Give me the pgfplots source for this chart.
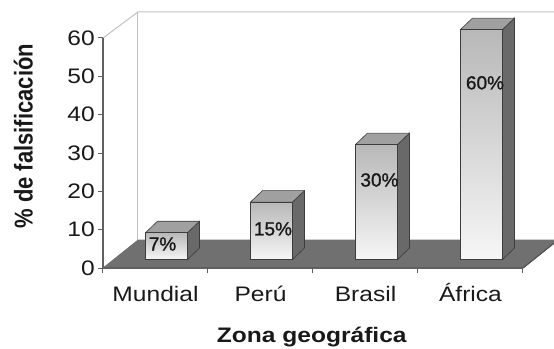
\documentclass[border=0pt]{standalone}
\usepackage{pgfplots}
\pgfplotsset{compat=1.18}
\usepackage{pgfplotstable}
\usepackage{fontspec}
\setmainfont{Liberation Sans}[FakeStretch=1.17]
\newfontfamily\plainfont{Liberation Sans}
\newfontfamily\labfont{Liberation Sans}[FakeBold=1.2]
\definecolor{floorc}{RGB}{112,112,112}
\definecolor{flooredge}{RGB}{85,85,85}
\definecolor{wallc}{RGB}{192,192,192}
\definecolor{axisc}{RGB}{96,96,96}
\definecolor{edgec}{RGB}{60,60,60}
\definecolor{topc}{RGB}{160,160,160}
\definecolor{sidec}{RGB}{105,105,105}
\definecolor{frontt}{RGB}{184,184,184}
\definecolor{frontb}{RGB}{246,246,246}
\definecolor{textc}{RGB}{25,25,25}

% unit shapes of the faces of a 3D bar: x = category + dx, y = value*fy + dy
\pgfplotstableread{
dx fy dy
-0.095 0 2.2
0.305 0 2.2
0.305 1 2.2
-0.095 1 2.2
}\frontshape
\pgfplotstableread{
dx fy dy
-0.095 1 2.2
0.305 1 2.2
0.419 1 5.2
0.019 1 5.2
}\topshape
\pgfplotstableread{
dx fy dy
0.305 0 2.2
0.305 1 2.2
0.419 1 5.2
0.419 0 5.2
}\sideshape

\newcommand{\cube}[2]{%
 \addplot[draw=edgec, fill=sidec, line width=0.6pt] table[x expr={#1+\thisrow{dx}}, y expr={#2*\thisrow{fy}+\thisrow{dy}}] {\sideshape} -- cycle;
 \addplot[draw=edgec, fill=topc, line width=0.6pt] table[x expr={#1+\thisrow{dx}}, y expr={#2*\thisrow{fy}+\thisrow{dy}}] {\topshape} -- cycle;
 \addplot[draw=edgec, top color=frontt, bottom color=frontb, line width=0.6pt] table[x expr={#1+\thisrow{dx}}, y expr={#2*\thisrow{fy}+\thisrow{dy}}] {\frontshape} -- cycle;
}

\begin{document}
\begin{tikzpicture}
\begin{axis}[
  at={(0,0)}, anchor=south west,
  width=420pt, height=230pt, scale only axis,
  xmin=-0.5, xmax=3.5, ymin=0, ymax=60,
  clip=false,
  axis on top,
  axis x line*=bottom, axis y line*=left,
  axis line style={draw=axisc, line width=1.2pt},
  ytick={0,10,...,60},
  xtick={0,1,2,3},
  xticklabels={Mundial,Perú,Brasil,África},
  minor xtick={-0.5,0.5,1.5,2.5,3.5},
  major x tick style={draw=none},
  tick align=outside,
  major tick length=5pt, minor tick length=5pt,
  every tick/.style={draw=axisc, line width=1pt},
  minor tick style={draw=axisc, line width=1pt},
  /pgf/number format/assume math mode=true,
  tick label style={font=\fontsize{21}{25}\selectfont, text=textc},
  yticklabel style={inner sep=1pt, xshift=-2pt},
  xticklabel style={anchor=base, yshift=-28pt},
  xlabel={Zona geográfica},
  ylabel={\scalebox{1}[1.17]{\% de falsificación}},
  every axis x label/.style={at={(axis description cs:0.497,-0.326)}, anchor=base, font=\bfseries\fontsize{21}{25}\selectfont, text=textc},
  every axis y label/.style={at={(axis description cs:-0.19,0.573)}, rotate=90, anchor=center, font=\plainfont\bfseries\fontsize{22}{26}\selectfont, text=textc},
]
% walls
\addplot[draw=wallc, line width=1pt] coordinates {(-0.5,60) (-0.167,66.8) (4.5,66.8)};
\addplot[draw=wallc, line width=1pt] coordinates {(-0.167,66.8) (-0.167,7.3)};
% floor
\addplot[fill=floorc, draw=floorc, line width=0.6pt] coordinates {(-0.5,0) (3.5,0) (3.833,7.3) (-0.167,7.3)} -- cycle;
\addplot[draw=flooredge, line width=1.2pt] coordinates {(3.5,0) (3.833,7.3)};
% bars: category index, value (%)
\cube{0}{7}
\cube{1}{15}
\cube{2}{30}
\cube{3}{60}
% value labels
\node[font=\labfont\fontsize{19}{22}\selectfont, text=textc] at (axis cs:0.067,6.26) {7\%};
\node[font=\labfont\fontsize{19}{22}\selectfont, text=textc] at (axis cs:1.119,10.2) {15\%};
\node[font=\labfont\fontsize{19}{22}\selectfont, text=textc] at (axis cs:2.133,22.96) {30\%};
\node[font=\labfont\fontsize{19}{22}\selectfont, text=textc] at (axis cs:3.138,48.3) {60\%};
\end{axis}
\pgfresetboundingbox
\useasboundingbox (-103pt,-80pt) rectangle (451pt,268pt);
\end{tikzpicture}
\end{document}
